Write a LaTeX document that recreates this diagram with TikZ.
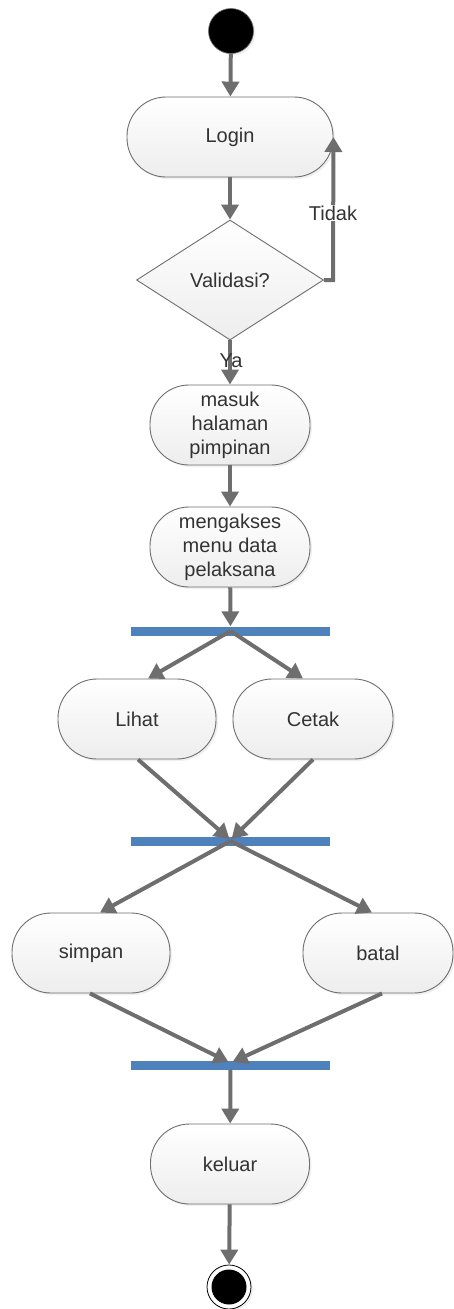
\documentclass[tikz,border=0pt]{standalone}
\usepackage{fontspec}
\setmainfont{Liberation Sans}
\usetikzlibrary{arrows.meta,shadows,calc,shapes.geometric}
\definecolor{arrgray}{HTML}{6E6E6E}
\definecolor{txtgray}{HTML}{333333}
\definecolor{barblue}{HTML}{4F81BD}
\tikzset{
  actbox/.style={draw=arrgray, line width=0.9pt, rounded corners=39pt, top color=white, bottom color=black!7,
    minimum height=80pt, align=center, text=txtgray, inner sep=2pt,
    font=\fontsize{20}{24}\selectfont,
    drop shadow={shadow xshift=2pt, shadow yshift=-2pt, opacity=0.12}},
  flow/.style={draw=arrgray, line width=4pt, -{Triangle[length=15pt,width=17pt]}},
  forkbar/.style={fill=barblue, draw=none, minimum width=199pt, minimum height=9pt, inner sep=0pt},
  lbl/.style={text=txtgray, font=\fontsize{20}{24}\selectfont, inner sep=1pt}
}
\begin{document}
\begin{tikzpicture}[x=1pt,y=-1pt]
\useasboundingbox (0,0) rectangle (454,1309);
% start
\node (start) [circle, fill=black, draw=arrgray, line width=0.6pt, minimum size=45pt, inner sep=0pt,
  drop shadow={shadow xshift=2pt, shadow yshift=-2pt, opacity=0.12}] at (231,31) {};
\node (login) [actbox, minimum width=206pt] at (230,137) {Login};
\node (valid) [diamond, draw=arrgray, line width=0.9pt, top color=white, bottom color=black!7, text=txtgray,
  font=\fontsize{20}{24}\selectfont, inner sep=0pt, aspect=1.56,
  minimum width=187pt, minimum height=120pt] at (230,280) {Validasi?};
\node (masuk) [actbox, minimum width=160pt] at (230,425) {masuk\\halaman\\pimpinan};
\node (akses) [actbox, minimum width=160pt] at (230,547) {mengakses\\menu data\\pelaksana};
\node (bar1) [forkbar] at (230.5,631) {};
\node (lihat) [actbox, minimum width=158pt] at (137,719) {Lihat};
\node (cetak) [actbox, minimum width=160pt] at (313,719) {Cetak};
\node (bar2) [forkbar] at (230.5,841) {};
\node (simpan) [actbox, minimum width=158pt] at (91,953) {simpan};
\node (batal) [actbox, minimum width=150pt] at (378,953) {batal};
\node (bar3) [forkbar] at (230.5,1065) {};
\node (keluar) [actbox, minimum width=159pt] at (230,1164) {keluar};
\node (endo) [circle, draw=black, fill=white, line width=0.8pt, minimum size=44pt, inner sep=0pt,
  drop shadow={shadow xshift=2pt, shadow yshift=-2pt, opacity=0.12}] at (229,1287) {};
\node (endi) [circle, fill=black, minimum size=35pt, inner sep=0pt] at (229,1287) {};

% connectors
\draw[flow] (start) -- (login);
\draw[flow] (login) -- (valid);
\coordinate (fb) at (333,280);
\draw[flow] (valid.east) -- (fb) -- (login.east);
\node (tidak) [lbl, fill=white] at (333,213) {Tidak};
\draw[flow] (valid.south) -- (masuk);
\node (ya) [lbl] at (231,361) {Ya};
\draw[flow] (masuk) -- (akses);
\draw[flow] (akses) -- (bar1);
\draw[flow] (bar1.center) -- ($(lihat.north)+(11,0)$);
\draw[flow] (bar1.center) -- ($(cetak.north)+(-10,0)$);
\draw[flow] ($(lihat.south)+(1,0)$) -- ($(bar2.center)+(-1,-2)$);
\draw[flow] (cetak.south) -- ($(bar2.center)+(1,-2)$);
\draw[flow] (bar2.center) -- ($(simpan.north)+(9,0)$);
\draw[flow] (bar2.center) -- ($(batal.north)+(-6,0)$);
\draw[flow] ($(simpan.south)+(-1,0)$) -- ($(bar3.center)+(-2,-3)$);
\draw[flow] ($(batal.south)+(4,0)$) -- ($(bar3.center)+(2,-3)$);
\draw[flow] (bar3) -- (keluar);
\draw[flow] (keluar) -- (endo);
\end{tikzpicture}
\end{document}
